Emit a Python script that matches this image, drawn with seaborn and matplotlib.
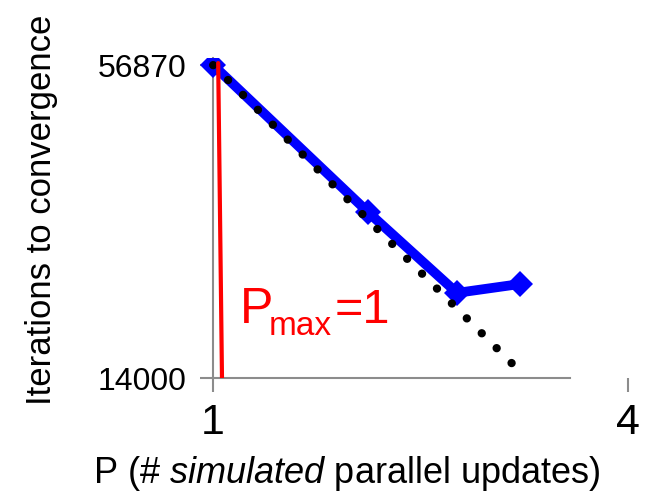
import matplotlib
matplotlib.use("Agg")
import matplotlib.pyplot as plt
import seaborn as sns
from matplotlib.ticker import NullLocator, FixedLocator, FixedFormatter
from matplotlib import font_manager as fm

# ---- data ----
p_values = [1.0, 1.68, 2.26, 2.79]
iterations = [56870, 29400, 20500, 21330]
ideal_p = [1.0, 2.73]
ideal_iter = [56870, 14840]
pmax_x = [1.017, 1.030]
pmax_y = [57400, 14000]
x_ticks = [1, 4]
x_tick_labels = ["1", "4"]
y_ticks = [14000, 56870]
y_tick_labels = ["14000", "56870"]

sns.set_theme(style="white")

def has_font(name):
    try:
        fm.findfont(fm.FontProperties(family=name), fallback_to_default=False)
        return True
    except Exception:
        return False

base = "Liberation Sans" if has_font("Liberation Sans") else "DejaVu Sans"
plt.rcParams["font.family"] = [base, "DejaVu Sans"]
plt.rcParams["mathtext.fontset"] = "custom"
plt.rcParams["mathtext.rm"] = base
plt.rcParams["mathtext.it"] = base + ":italic"
plt.rcParams["text.color"] = "black"
plt.rcParams["xtick.color"] = "black"
plt.rcParams["ytick.color"] = "black"

W, H = 646, 492
fig = plt.figure(figsize=(W / 100, H / 100), dpi=100)
ax = fig.add_axes([200 / W, 114 / H, 430 / W, 320 / H])
ax.set_xscale("log")
ax.set_yscale("log")
ax.set_xlim(0.957, 4.03)
ax.set_ylim(14000, 58710)

gray = "#8c8c8c"
sns.lineplot(x=p_values, y=iterations, ax=ax, color="#0000ff", lw=7,
             marker="D", markersize=13, markeredgewidth=0, sort=False, zorder=3)
sns.lineplot(x=ideal_p, y=ideal_iter, ax=ax, color="black", lw=6,
             linestyle=(0, (0.01, 2.52)), dash_capstyle="round", sort=False, zorder=4)
sns.lineplot(x=pmax_x, y=pmax_y, ax=ax, color="#ff0000", lw=3, sort=False, zorder=5)

for s in ["top", "right"]:
    ax.spines[s].set_visible(False)
ax.spines["left"].set_position(("data", 1))
ax.spines["left"].set_color(gray)
ax.spines["left"].set_linewidth(1.5)
ax.spines["bottom"].set_color(gray)
ax.spines["bottom"].set_linewidth(1.5)
ax.spines["bottom"].set_bounds(1, 3.30)

ax.xaxis.set_major_locator(FixedLocator(x_ticks))
ax.xaxis.set_major_formatter(FixedFormatter(x_tick_labels))
ax.yaxis.set_major_locator(FixedLocator(y_ticks))
ax.yaxis.set_major_formatter(FixedFormatter(y_tick_labels))
ax.xaxis.set_minor_locator(NullLocator())
ax.yaxis.set_minor_locator(NullLocator())
ax.tick_params(axis="x", direction="out", length=10, width=1.5, color=gray,
               labelcolor="black", labelsize=31, pad=8, bottom=True)
ax.tick_params(axis="y", direction="out", length=9.5, width=1.5, color=gray,
               labelcolor="black", labelsize=23, pad=10, left=True)

fig.text(42 / W, 1 - 210 / H, "Iterations to convergence", rotation=90,
         ha="center", va="center", fontsize=25, color="black")
fig.text(347 / W, 9 / H, "P (# $\\mathit{simulated}$ parallel updates)",
         ha="center", va="baseline", fontsize=26, color="black")

red = "#ff0000"
fig.text(240 / W, (H - 323) / H, "P", color=red, fontsize=36,
         ha="left", va="baseline")
fig.text(269 / W, (H - 335) / H, "max", color=red, fontsize=24,
         ha="left", va="baseline")
fig.text(335 / W, (H - 323) / H, "=1", color=red, fontsize=35,
         ha="left", va="baseline")

fig.savefig("out.png", dpi=100)
